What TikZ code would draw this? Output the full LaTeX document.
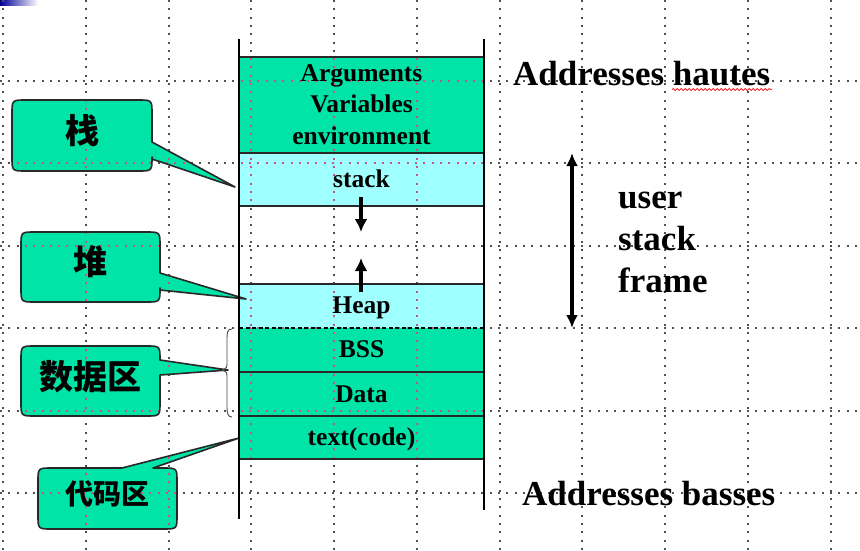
\documentclass[tikz,border=0pt]{standalone}
\usepackage{fontspec}
\setmainfont{Liberation Serif}
\newfontfamily\cjkfont{Noto Sans CJK SC}
\usetikzlibrary{arrows.meta,decorations.pathmorphing}
\definecolor{seggreen}{RGB}{0,228,168}
\definecolor{segcyan}{RGB}{160,255,255}
\definecolor{gridgray}{RGB}{80,80,80}
\definecolor{gridpink}{RGB}{190,90,130}
\definecolor{edgegray}{RGB}{40,40,40}
\newcommand{\pZhan}{(82,100) -- (138,100) .. controls (152,100) .. (152,114) -- (152,142) -- (235,187) -- (152,159) -- (152,157) .. controls (152,171) .. (138,171) -- (26,171) .. controls (12,171) .. (12,157) -- (12,114) .. controls (12,100) .. (26,100) -- cycle}
\newcommand{\pDui}{(90,232) -- (146,232) .. controls (160,232) .. (160,246) -- (160,273) -- (246,299) -- (160,290) -- (160,288) .. controls (160,302) .. (146,302) -- (35,302) .. controls (21,302) .. (21,288) -- (21,246) .. controls (21,232) .. (35,232) -- cycle}
\newcommand{\pShu}{(90,346) -- (146,346) .. controls (160,346) .. (160,360) -- (228,370) -- (160,375) -- (160,402) .. controls (160,416) .. (146,416) -- (35,416) .. controls (21,416) .. (21,402) -- (21,360) .. controls (21,346) .. (35,346) -- cycle}
\newcommand{\pDai}{(52,468) -- (122,468) -- (239,438) -- (153,468) -- (163,468) .. controls (177,468) .. (177,482) -- (177,515) .. controls (177,529) .. (163,529) -- (52,529) .. controls (38,529) .. (38,515) -- (38,482) .. controls (38,468) .. (52,468) -- cycle}
\newcommand{\gridDots}{%
  \foreach \k in {0,...,10} {\foreach \j in {0,...,66} {\fill ({round(3+82.75*\k)-1},{round(\j*8.3)}) rectangle ++(2,2);}}%
  \foreach \k in {0,...,5} {\foreach \j in {0,...,103} {\fill ({round(\j*8.3)},{round(80.5+82.5*\k)-1}) rectangle ++(2,2);}}%
}
\begin{document}
\begin{tikzpicture}[x=1pt,y=-1pt,
  boxtxt/.style={font=\bfseries\fontsize{25.5}{31}\selectfont, anchor=base, inner sep=0pt},
  bigtxt/.style={font=\bfseries\fontsize{35}{42}\selectfont, anchor=base west, inner sep=0pt},
  cjktxt/.style={font=\cjkfont\bfseries\fontsize{34}{40}\selectfont, inner sep=0pt},
  cjksmall/.style={font=\cjkfont\bfseries\fontsize{28}{34}\selectfont, inner sep=0pt},
  calloutfill/.style={fill=seggreen},
  calloutedge/.style={draw=edgegray, line width=1.6pt, line join=round},
  sepline/.style={draw=edgegray, line width=1.6pt},
  longline/.style={draw=black, line width=2.8pt},
  midarrow/.style={line width=3.2pt, -{Latex[length=13pt,width=13pt]}},
  bigarrow/.style={line width=3.2pt, {Latex[length=13pt,width=12pt]}-{Latex[length=13pt,width=12pt]}},
]
\useasboundingbox (0,0) rectangle (860,550);
\fill[white] (0,0) rectangle (860,550);
% slide corner mark
\shade[left color=blue!60!black, right color=white] (0,0) rectangle (38,5);

% grid (behind)
\begin{scope}[gridgray]
\gridDots
\end{scope}

% segment fills
\fill[seggreen] (239,57) rectangle (484,153);
\fill[segcyan] (239,153) rectangle (484,206);
\fill[white] (239,206) rectangle (484,284);
\fill[segcyan] (239,284) rectangle (484,328);
\fill[seggreen] (239,328) rectangle (484,459);

% callout fills
\fill[calloutfill] \pZhan;
\fill[calloutfill] \pDui;
\fill[calloutfill] \pShu;
\fill[calloutfill] \pDai;

% grid over coloured areas
\begin{scope}
\clip (239,57) rectangle (484,206) (239,284) rectangle (484,459) \pZhan \pDui \pShu \pDai;
\begin{scope}[gridpink]
\gridDots
\end{scope}
\end{scope}
\begin{scope}
\clip (239,206) rectangle (484,284);
\begin{scope}[gridgray]
\gridDots
\end{scope}
\end{scope}

% callout outlines
\draw[calloutedge] \pZhan;
\draw[calloutedge] \pDui;
\draw[calloutedge] \pShu;
\draw[calloutedge] \pDai;

% separators
\coordinate (sAL) at (239,57);  \coordinate (sAR) at (484,57);
\coordinate (sBL) at (239,153); \coordinate (sBR) at (484,153);
\coordinate (sCL) at (239,206); \coordinate (sCR) at (484,206);
\coordinate (sDL) at (239,284); \coordinate (sDR) at (484,284);
\coordinate (sEL) at (239,328); \coordinate (sER) at (484,328);
\coordinate (sFL) at (239,372); \coordinate (sFR) at (484,372);
\coordinate (sGL) at (239,416); \coordinate (sGR) at (484,416);
\coordinate (sHL) at (239,459); \coordinate (sHR) at (484,459);
\draw[sepline] (sAL) -- (sAR);
\draw[sepline] (sBL) -- (sBR);
\draw[sepline] (sCL) -- (sCR);
\draw[sepline] (sDL) -- (sDR);
\draw[draw=black, line width=1.4pt, dash pattern=on 4pt off 2.5pt] (sEL) -- (sER);
\draw[sepline] (sFL) -- (sFR);
\draw[sepline] (sGL) -- (sGR);
\draw[sepline] (sHL) -- (sHR);

% long vertical lines
\coordinate (ltop) at (239,39); \coordinate (lbot) at (239,519);
\coordinate (rtop) at (484,39); \coordinate (rbot) at (484,510);
\draw[longline] (ltop) -- (lbot);
\draw[longline] (rtop) -- (rbot);

% segment texts
\node[boxtxt] (argA) at (361.5,81) {Arguments};
\node[boxtxt] (argB) at (361.5,112) {Variables};
\node[boxtxt] (argC) at (361.5,144) {environment};
\node[boxtxt] (stk) at (361.5,187) {stack};
\node[boxtxt] (heap) at (361.5,313) {Heap};
\node[boxtxt] (bss) at (361.5,357) {BSS};
\node[boxtxt] (data) at (361.5,402) {Data};
\node[boxtxt] (code) at (361.5,445) {text(code)};

% growth arrows
\coordinate (dnA) at (361,197); \coordinate (dnB) at (361,232);
\coordinate (upA) at (361,292); \coordinate (upB) at (361,258);
\draw[midarrow] (dnA) -- (dnB);
\draw[midarrow] (upA) -- (upB);

% callout texts
\node[cjktxt] (zhan) at (82,131) {栈};
\node[cjktxt] (dui) at (90,262) {堆};
\node[cjktxt] (shuju) at (90,377) {数据区};
\node[cjksmall] (daima) at (107,494) {代码区};

% brace
\draw[gray!60!black, line width=0.9pt] (232,329) .. controls (227,329) and (227,333) .. (227,340) -- (227,362) .. controls (227,368) .. (222,370) .. controls (227,372) .. (227,378) -- (227,406) .. controls (227,414) and (228,417) .. (232,417);

% right side
\node[bigtxt] (hi) at (513,85) {Addresses hautes};
\draw[red!85, line width=0.8pt, decorate, decoration={snake, amplitude=1.1pt, segment length=4pt}] (672,89.5) -- (772,89.5);
\node[bigtxt] (lo) at (522,505) {Addresses basses};
\coordinate (fa) at (572,153); \coordinate (fb) at (572,328);
\draw[bigarrow] (fa) -- (fb);
\node[bigtxt] (u1) at (618,208) {user};
\node[bigtxt] (u2) at (618,250) {stack};
\node[bigtxt] (u3) at (618,292) {frame};
\end{tikzpicture}
\end{document}
